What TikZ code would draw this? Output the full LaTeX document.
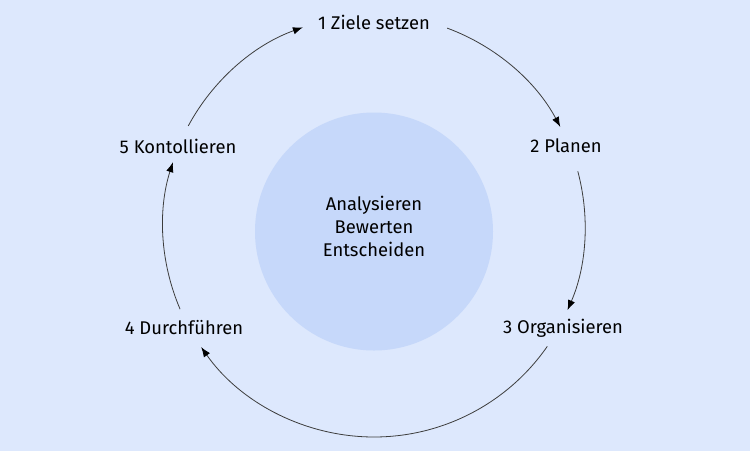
\documentclass[tikz,border=0pt]{standalone}
\usepackage{fontspec}
\setmainfont{Fira Sans}
\usetikzlibrary{arrows.meta}
\definecolor{bgblue}{RGB}{221,232,253}
\definecolor{innerblue}{RGB}{198,216,250}
\definecolor{linegray}{RGB}{60,60,60}
\begin{document}
\begin{tikzpicture}[x=0.75pt, y=0.75pt, font=\fontsize{13.8}{17.25}\selectfont, line join=round, >={Latex[length=7.5pt,width=5.5pt,color=black]},
  cycarrow/.style={->, draw=linegray, line width=0.6pt}]
            \fill[bgblue] (0,0) rectangle (750,-451);
            \fill[innerblue] (374,-231.5) circle (119);
            \coordinate (c) at (374,-226);
            \node[align=center] (mitte) at (374,-226) {Analysieren\\Bewerten\\Entscheiden};
            \node (ziele) at (374,-22) {1 Ziele setzen};
            \node (planen) at (566,-146) {2 Planen};
            \node (organ) at (563,-328) {3 Organisieren};
            \node (durch) at (184,-328) {4 Durchführen};
            \node (kontr) at (178,-146) {5 Kontollieren};
            % Kreislauf, im Uhrzeigersinn
            \draw[cycarrow] ([shift={(69.7:211)}]c) arc[start angle=69.7, end angle=28, radius=211];
            \draw[cycarrow] ([shift={(15:211)}]c) arc[start angle=15, end angle=-23.5, radius=211];
            \draw[cycarrow] ([shift={(-34.8:211)}]c) arc[start angle=-34.8, end angle=-145, radius=211];
            \draw[cycarrow] ([shift={(-156.8:211)}]c) arc[start angle=-156.8, end angle=-197.6, radius=211];
            \draw[cycarrow] ([shift={(151.7:211)}]c) arc[start angle=151.7, end angle=109.7, radius=211];
        \end{tikzpicture}
\end{document}
